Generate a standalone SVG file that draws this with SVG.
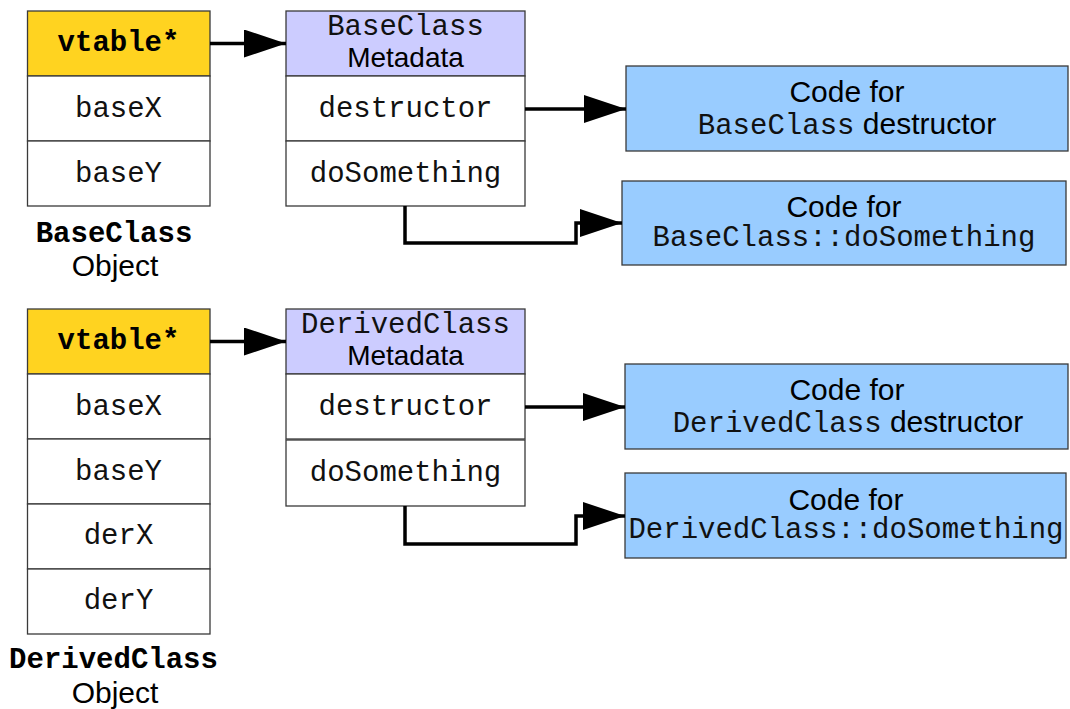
<svg xmlns="http://www.w3.org/2000/svg" width="1070" height="709" viewBox="0 0 1070 709">
  <style>
    .box { stroke: #3a3a3a; stroke-width: 1.3; }
    .white { fill: #ffffff; }
    .vt { fill: #ffd320; }
    .meta { fill: #ccccff; }
    .code { fill: #99ccff; }
    .mono { font-family: "Liberation Mono", "Courier New", monospace; font-size: 29px; fill: #111; }
    .monob { font-family: "Liberation Mono", "Courier New", monospace; font-size: 29px; font-weight: bold; fill: #000; }
    .sans { font-family: "Liberation Sans", Arial, sans-serif; fill: #000; }
    .c { text-anchor: middle; }
    .conn { fill: none; stroke: #000; stroke-width: 3.5; marker-end: url(#arr); }
  </style>
  <defs>
    <marker id="arr" markerUnits="userSpaceOnUse" markerWidth="42" markerHeight="28" refX="42" refY="14" orient="auto">
      <path d="M0,0 L42,14 L0,28 Z" fill="#000"/>
    </marker>
  </defs>

  <g id="baseclass-object">
    <rect class="box vt" x="27.5" y="11" width="182.5" height="65"/>
    <rect class="box white" x="27.5" y="76" width="182.5" height="65"/>
    <rect class="box white" x="27.5" y="141" width="182.5" height="65"/>
    <text class="monob c" x="118.5" y="51">vtable*</text>
    <text class="mono c" x="118.5" y="117">baseX</text>
    <text class="mono c" x="118.5" y="182">baseY</text>
    <text class="monob c" x="114" y="242">BaseClass</text>
    <text class="sans c" x="115" y="276" font-size="30">Object</text>
  </g>

  <g id="baseclass-metadata">
    <rect class="box meta" x="286" y="11" width="239" height="65"/>
    <rect class="box white" x="286" y="76" width="239" height="65"/>
    <rect class="box white" x="286" y="141" width="239" height="65"/>
    <text class="mono c" x="405.5" y="35" fill="#333">BaseClass</text>
    <text class="sans c" x="405.5" y="67" font-size="28">Metadata</text>
    <text class="mono c" x="405.5" y="117">destructor</text>
    <text class="mono c" x="405.5" y="182">doSomething</text>
  </g>

  <g id="base-destructor-code">
    <rect class="box code" x="626" y="66" width="442" height="85"/>
    <text class="sans c" x="847" y="102" font-size="30">Code for</text>
    <text class="c" x="847" y="134"><tspan class="mono">BaseClass</tspan><tspan class="sans" font-size="30"> destructor</tspan></text>
  </g>

  <g id="base-dosomething-code">
    <rect class="box code" x="622" y="181" width="444" height="84"/>
    <text class="sans c" x="844" y="217" font-size="30">Code for</text>
    <text class="mono c" x="844" y="246">BaseClass::doSomething</text>
  </g>

  <g id="derivedclass-object">
    <rect class="box vt" x="27.5" y="309" width="182.5" height="65"/>
    <rect class="box white" x="27.5" y="374" width="182.5" height="65"/>
    <rect class="box white" x="27.5" y="439" width="182.5" height="65"/>
    <rect class="box white" x="27.5" y="504" width="182.5" height="65"/>
    <rect class="box white" x="27.5" y="569" width="182.5" height="65"/>
    <text class="monob c" x="118.5" y="349">vtable*</text>
    <text class="mono c" x="118.5" y="415">baseX</text>
    <text class="mono c" x="118.5" y="480">baseY</text>
    <text class="mono c" x="118.5" y="544">derX</text>
    <text class="mono c" x="118.5" y="609">derY</text>
    <text class="monob c" x="113.5" y="668">DerivedClass</text>
    <text class="sans c" x="115" y="703" font-size="30">Object</text>
  </g>

  <g id="derivedclass-metadata">
    <rect class="box meta" x="286" y="309" width="239" height="65"/>
    <rect class="box white" x="286" y="374" width="239" height="65"/>
    <rect class="box white" x="286" y="440" width="239" height="66"/>
    <text class="mono c" x="405.5" y="333" fill="#333">DerivedClass</text>
    <text class="sans c" x="405.5" y="365" font-size="28">Metadata</text>
    <text class="mono c" x="405.5" y="415">destructor</text>
    <text class="mono c" x="405.5" y="481">doSomething</text>
  </g>

  <g id="derived-destructor-code">
    <rect class="box code" x="625" y="364" width="443" height="85"/>
    <text class="sans c" x="847" y="400" font-size="30">Code for</text>
    <text class="c" x="848" y="432"><tspan class="mono">DerivedClass</tspan><tspan class="sans" font-size="30"> destructor</tspan></text>
  </g>

  <g id="derived-dosomething-code">
    <rect class="box code" x="625" y="473" width="441" height="85"/>
    <text class="sans c" x="846" y="510" font-size="30">Code for</text>
    <text class="mono c" x="846" y="538">DerivedClass::doSomething</text>
  </g>

  <g id="connectors">
    <path class="conn" d="M210,43.5 H286"/>
    <path class="conn" d="M525,109 H626"/>
    <path class="conn" d="M405,206 V243 H576 V223 H622"/>
    <path class="conn" d="M210,341.5 H286"/>
    <path class="conn" d="M525,407 H625"/>
    <path class="conn" d="M405,506 V544 H576 V516 H625"/>
  </g>
</svg>
